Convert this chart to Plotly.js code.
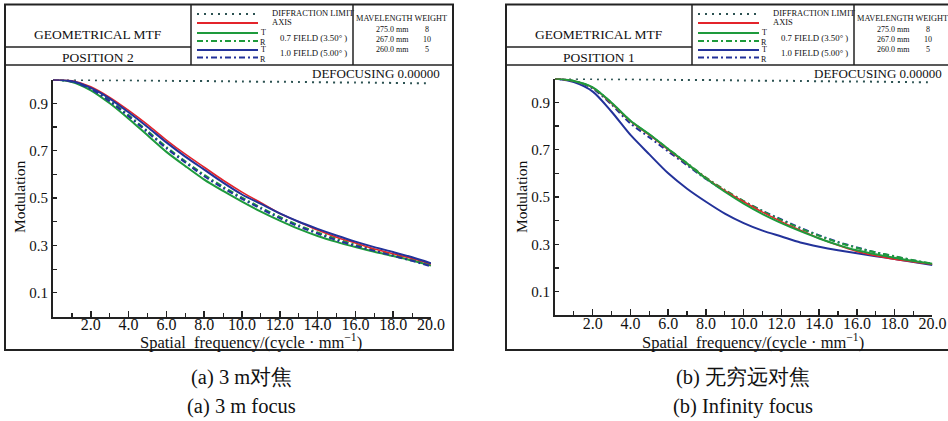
<!DOCTYPE html>
<html><head><meta charset="utf-8">
<script src="https://cdn.plot.ly/plotly-3.0.1.min.js"></script>
<style>html,body{margin:0;padding:0;background:#fff}#chart{width:948px;height:421px}</style>
</head><body><div id="chart"></div>
<script>
// ---------- data ----------
const freq = [0,1,2,3,4,5,6,7,8,9,10,11,12,13,14,15,16,17,18,19,20];
const xTickVals = [2,4,6,8,10,12,14,16,18,20];
const xTickText = ["2.0","4.0","6.0","8.0","10.0","12.0","14.0","16.0","18.0","20.0"];
const xMinorVals = [1,3,5,7,9,11,13,15,17,19];
const yTickVals = [0.1,0.3,0.5,0.7,0.9];
const yTickText = ["0.1","0.3","0.5","0.7","0.9"];
const yMinorVals = [0.2,0.4,0.6,0.8];

const diffraction = [1.0,0.999,0.998,0.997,0.997,0.996,0.995,0.994,0.994,0.993,0.992,0.991,0.991,0.990,0.989,0.988,0.988,0.987,0.986,0.985,0.985];

// (a) 3 m focus
const a_axis   = [1.0,0.995,0.97,0.925,0.87,0.81,0.745,0.685,0.63,0.575,0.525,0.48,0.435,0.40,0.365,0.335,0.31,0.285,0.265,0.245,0.222];
const a_f07T   = [1.0,0.99,0.955,0.90,0.835,0.765,0.695,0.635,0.578,0.53,0.485,0.443,0.405,0.37,0.34,0.315,0.293,0.273,0.255,0.236,0.215];
const a_f07R   = [1.0,0.992,0.962,0.912,0.85,0.783,0.715,0.655,0.598,0.548,0.502,0.46,0.42,0.385,0.355,0.328,0.303,0.282,0.26,0.24,0.218];
const a_f10T   = [1.0,0.993,0.965,0.92,0.862,0.80,0.735,0.675,0.62,0.565,0.515,0.475,0.435,0.40,0.37,0.342,0.316,0.293,0.272,0.25,0.225];
const a_f10R   = [1.0,0.992,0.96,0.908,0.845,0.778,0.71,0.65,0.592,0.542,0.497,0.455,0.415,0.38,0.35,0.322,0.298,0.277,0.256,0.235,0.212];

// (b) infinity focus
const b_axis   = [1.0,0.99,0.962,0.895,0.82,0.762,0.70,0.64,0.58,0.527,0.48,0.436,0.396,0.36,0.326,0.296,0.27,0.252,0.237,0.226,0.216];
const b_f07T   = [1.0,0.99,0.963,0.898,0.822,0.765,0.703,0.641,0.578,0.522,0.472,0.428,0.39,0.356,0.325,0.298,0.275,0.258,0.243,0.23,0.218];
const b_f07R   = [1.0,0.99,0.962,0.897,0.821,0.763,0.703,0.643,0.582,0.53,0.483,0.44,0.402,0.367,0.336,0.308,0.285,0.266,0.25,0.233,0.218];
const b_f10T   = [1.0,0.985,0.945,0.86,0.762,0.68,0.60,0.535,0.48,0.43,0.39,0.358,0.333,0.308,0.29,0.275,0.262,0.25,0.238,0.225,0.213];
const b_f10R   = [1.0,0.989,0.958,0.89,0.81,0.752,0.692,0.634,0.576,0.526,0.482,0.441,0.405,0.37,0.338,0.31,0.287,0.266,0.249,0.232,0.216];

const captionsCN = ["(a) 3 m对焦","(b) 无穷远对焦"];
const captionsEN = ["(a) 3 m focus","(b) Infinity focus"];
const positions = ["POSITION 2","POSITION 1"];

// ---------- styling ----------
const W = 948, H = 421;
const px = x => x / W, py = y => 1 - y / H;
const SERIF = "Liberation Serif";
const RED = "#e3242b", GREEN = "#1e9a3c", BLUE = "#23329a", DOT = "#2c5252", INK = "#222";
const styles = {
  diff: {color: DOT, width: 2, dash: "2px,5px"},
  axis: {color: RED, width: 1.6},
  f07T: {color: GREEN, width: 2},
  f07R: {color: GREEN, width: 2, dash: "6px,3px,2px,3px"},
  f10T: {color: BLUE, width: 2},
  f10R: {color: BLUE, width: 2, dash: "6px,3px,2px,3px"}
};

function tr(y, st, xa, ya) {
  return {x: freq, y: y, type: "scatter", mode: "lines", line: Object.assign({shape: "spline", smoothing: 0.8}, st),
          xaxis: xa, yaxis: ya, hoverinfo: "skip", showlegend: false};
}
const data = [
  tr(diffraction, styles.diff, "x", "y"),
  tr(a_f07T, styles.f07T, "x", "y"),
  tr(a_f07R, styles.f07R, "x", "y"),
  tr(a_f10R, styles.f10R, "x", "y"),
  tr(a_axis, styles.axis, "x", "y"),
  tr(a_f10T, styles.f10T, "x", "y"),
  tr(diffraction, styles.diff, "x2", "y2"),
  tr(b_f10T, styles.f10T, "x2", "y2"),
  tr(b_f10R, styles.f10R, "x2", "y2"),
  tr(b_f07R, styles.f07R, "x2", "y2"),
  tr(b_axis, styles.axis, "x2", "y2"),
  tr(b_f07T, styles.f07T, "x2", "y2")
];

function xax(d, anchor) {
  return {domain: d, anchor: anchor, range: [0, 20], showline: true, linecolor: INK, linewidth: 2,
    ticks: "inside", ticklen: 6, tickwidth: 1.5, tickcolor: INK, tickvals: xTickVals, ticktext: xTickText,
    ticklabelstandoff: -8,
    showgrid: false, zeroline: false, tickfont: {family: SERIF, size: 16, color: "#111"},
    minor: {tickvals: xMinorVals, ticks: "inside", ticklen: 4, tickwidth: 1.2, tickcolor: INK, showgrid: false}};
}
function yax(d, anchor) {
  return {domain: d, anchor: anchor, range: [0, 1.0], showline: true, linecolor: INK, linewidth: 2,
    ticks: "inside", ticklen: 4, tickwidth: 1.2, tickcolor: INK, tickvals: yTickVals, ticktext: yTickText,
    showgrid: false, zeroline: false, tickfont: {family: SERIF, size: 15, color: "#111"},
    minor: {tickvals: yMinorVals, ticks: "inside", ticklen: 4, tickwidth: 1.2, tickcolor: INK, showgrid: false}};
}

const shapes = [], annotations = [];
function line(x0, y0, x1, y1, st) {
  shapes.push({type: "line", xref: "paper", yref: "paper", x0: px(x0), y0: py(y0), x1: px(x1), y1: py(y1),
    line: Object.assign({color: INK, width: 1.5}, st || {})});
}
function text(t, x, y, size, xanchor, extra) {
  annotations.push(Object.assign({text: t, xref: "paper", yref: "paper", x: px(x), y: py(y), showarrow: false,
    xanchor: xanchor || "center", yanchor: "middle", borderpad: 0, font: {family: SERIF, size: size, color: "#111"}}, extra || {}));
}

function panel(ox, pox, idx, rightEdge) {
  shapes.push({type: "rect", xref: "paper", yref: "paper", x0: px(5 + ox), y0: py(350), x1: px(rightEdge), y1: py(4.5),
    line: {color: INK, width: 2}});
  line(5 + ox, 65, rightEdge, 65);
  line(191 + ox, 4.5, 191 + ox, 65);
  line(353 + ox, 4.5, 353 + ox, 65);
  line(5 + ox, 47, 191 + ox, 47);
  text("GEOMETRICAL MTF", 98 + ox, 34, 13.5);
  text(positions[idx], 98 + ox, 57, 13.5);
  const lx0 = 197 + ox, lx1 = 258 + ox;
  line(lx0, 14, lx1 - 3, 14, styles.diff);
  line(lx0, 23, lx1, 23, {color: RED, width: 2});
  line(lx0, 33, lx1, 33, {color: GREEN, width: 2});
  line(lx0, 41, lx1, 41, styles.f07R);
  line(lx0, 50, lx1, 50, {color: BLUE, width: 2});
  line(lx0, 57.5, lx1, 57.5, styles.f10R);
  text("T", 263 + ox, 32.5, 8); text("R", 263 + ox, 42.5, 8);
  text("T", 263 + ox, 49.5, 8); text("R", 263 + ox, 59.5, 8);
  text("DIFFRACTION LIMIT", 271 + ox, 13, 8.5, "left");
  text("AXIS", 271 + ox, 22.5, 8.5, "left");
  text("0.7 FIELD (3.50° )", 279 + ox, 38, 8.8, "left");
  text("1.0 FIELD (5.00° )", 279 + ox, 53, 8.8, "left");
  text("MAVELENGTH WEIGHT", 401 + ox, 18, 8.3);
  text("275.0 mm", 392 + ox, 29, 8); text("8", 427 + ox, 29, 8);
  text("267.0 mm", 392 + ox, 39.5, 8); text("10", 427 + ox, 39.5, 8);
  text("260.0 mm", 392 + ox, 50, 8); text("5", 427 + ox, 50, 8);
  text("DEFOCUSING 0.00000", 441 + pox, 73, 13, "right");
  text("Modulation", 19 + pox, 197, 15.5, "center", {textangle: -90});
  text("Spatial  frequency/(cycle · mm<sup>−1</sup>)", 251 + pox, 341, 16.5);
  text(captionsCN[idx], 241 + pox, 377, 20.5);
  text(captionsEN[idx], 241 + pox, 406, 20.5);
}
panel(0, 0, 0, 453);
panel(501, 502, 1, 950);

const layout = {
  width: W, height: H, margin: {l: 0, r: 0, t: 0, b: 0}, paper_bgcolor: "#fff", plot_bgcolor: "rgba(0,0,0,0)",
  showlegend: false, font: {family: SERIF},
  xaxis: xax([53 / W, 431 / W], "y"),
  yaxis: yax([py(316.5), py(79.6)], "x"),
  xaxis2: xax([555 / W, 932.4 / W], "y2"),
  yaxis2: yax([py(315.4), py(78.6)], "x2"),
  shapes: shapes, annotations: annotations
};
Plotly.newPlot("chart", data, layout, {staticPlot: true, displayModeBar: false});
</script></body></html>
